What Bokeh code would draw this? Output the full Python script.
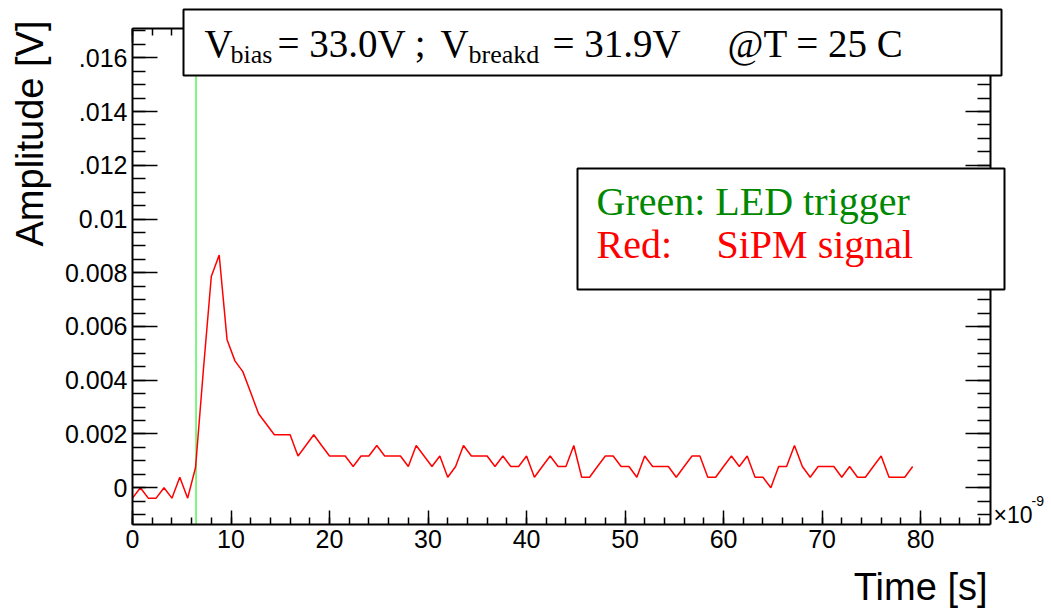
from bokeh.plotting import figure
from bokeh.models import Range1d, LinearAxis, FixedTicker, Label, BoxAnnotation
from bokeh.embed import file_html
from bokeh.resources import INLINE
import math

# ---------------- data ----------------
time_ns = [0.0, 0.8, 1.6, 2.4, 3.2, 4.0, 4.8, 5.6, 6.4, 7.2,
           8.0, 8.8, 9.6, 10.4, 11.2, 12.0, 12.8, 13.6, 14.4, 15.2,
           16.0, 16.8, 17.6, 18.4, 19.2, 20.0, 20.8, 21.6, 22.4, 23.2,
           24.0, 24.8, 25.6, 26.4, 27.2, 28.0, 28.8, 29.6, 30.4, 31.2,
           32.0, 32.8, 33.6, 34.4, 35.2, 36.0, 36.8, 37.6, 38.4, 39.2,
           40.0, 40.8, 41.6, 42.4, 43.2, 44.0, 44.8, 45.6, 46.4, 47.2,
           48.0, 48.8, 49.6, 50.4, 51.2, 52.0, 52.8, 53.6, 54.4, 55.2,
           56.0, 56.8, 57.6, 58.4, 59.2, 60.0, 60.8, 61.6, 62.4, 63.2,
           64.0, 64.8, 65.6, 66.4, 67.2, 68.0, 68.8, 69.6, 70.4, 71.2,
           72.0, 72.8, 73.6, 74.4, 75.2, 76.0, 76.8, 77.6, 78.4, 79.2]

sipm_amplitude = [-0.00039, 0.0, -0.00039, -0.00039, 0.0, -0.00039, 0.00039, -0.00039, 0.00075, 0.0044,
                  0.00786, 0.00866, 0.00551, 0.00472, 0.00432, 0.00354, 0.00275, 0.00236, 0.00197, 0.00197,
                  0.00197, 0.00118, 0.00157, 0.00197, 0.00157, 0.00118, 0.00118, 0.00118, 0.00079, 0.00118,
                  0.00118, 0.00157, 0.00118, 0.00118, 0.00118, 0.00079, 0.00157, 0.00118, 0.00079, 0.00118,
                  0.00039, 0.00079, 0.00157, 0.00118, 0.00118, 0.00118, 0.00079, 0.00118, 0.00079, 0.00079,
                  0.00118, 0.00039, 0.00079, 0.00118, 0.00079, 0.00079, 0.00157, 0.00039, 0.00039, 0.00079,
                  0.00118, 0.00118, 0.00079, 0.00079, 0.00039, 0.00118, 0.00079, 0.00079, 0.00079, 0.00039,
                  0.00079, 0.00118, 0.00118, 0.00039, 0.00039, 0.00079, 0.00118, 0.00079, 0.00118, 0.00039,
                  0.00039, 0.0, 0.00079, 0.00079, 0.00157, 0.00079, 0.00039, 0.00079, 0.00079, 0.00079,
                  0.00039, 0.00079, 0.00039, 0.00039, 0.00079, 0.00118, 0.00039, 0.00039, 0.00039, 0.00079]

led_trigger_time = 6.45

x_ticks = [0, 10, 20, 30, 40, 50, 60, 70, 80]
x_tick_labels = ["0", "10", "20", "30", "40", "50", "60", "70", "80"]
y_ticks = [0.0, 0.002, 0.004, 0.006, 0.008, 0.010, 0.012, 0.014, 0.016]
y_tick_labels = ["0", "0.002", "0.004", "0.006", "0.008", "0.01", ".012", ".014", ".016"]

# ---------------- layout ----------------
W, H = 1051, 608
FL, FR, FT, FB = 132, 990, 28, 524          # pixel edges of the axes frame
X0, X1 = 0.0, 87.1                           # axis extents (data)
Y0, Y1 = -0.00137, 0.01709


def dx(px):
    return X0 + (px - FL) / (FR - FL) * (X1 - X0)


def dy(py):
    return Y0 + (FB - py) / (FB - FT) * (Y1 - Y0)


p = figure(width=W, height=H,
           x_range=Range1d(dx(0), dx(W)), y_range=Range1d(dy(H), dy(0)),
           output_backend="svg", toolbar_location=None,
           min_border=0, min_border_left=0, min_border_right=0,
           min_border_top=0, min_border_bottom=0)
p.grid.visible = False
p.outline_line_color = None
p.background_fill_color = "white"
p.border_fill_color = "white"

x_minor = [2 * k for k in range(0, 44)]
y_minor = [-0.001 + 0.0005 * k for k in range(0, 37)]
xt = FixedTicker(ticks=x_ticks, minor_ticks=x_minor)
yt = FixedTicker(ticks=y_ticks, minor_ticks=y_minor)


def style_axis(ax, major_len, minor_len, labels=True):
    ax.axis_line_color = "black"
    ax.axis_line_width = 2
    ax.major_tick_in = major_len
    ax.major_tick_out = 0
    ax.minor_tick_in = minor_len
    ax.minor_tick_out = 0
    ax.major_tick_line_color = "black"
    ax.minor_tick_line_color = "black"
    ax.major_tick_line_width = 1.5
    ax.minor_tick_line_width = 1.5
    if labels:
        ax.major_label_text_font = "Liberation Sans"
        ax.major_label_text_font_size = "25px"
        ax.major_label_text_color = "black"
        ax.major_label_standoff = 5
    else:
        ax.major_label_text_color = None


xa = p.xaxis[0]
xa.ticker = xt
xa.fixed_location = Y0
xa.bounds = (X0, X1)
xa.major_label_overrides = dict(zip(x_ticks, x_tick_labels))
style_axis(xa, 14, 7)

ya = p.yaxis[0]
ya.ticker = yt
ya.fixed_location = X0
ya.bounds = (Y0, Y1)
ya.major_label_overrides = dict(zip(y_ticks, y_tick_labels))
style_axis(ya, 25, 13)

ra = LinearAxis(ticker=yt, fixed_location=X1, bounds=(Y0, Y1))
style_axis(ra, 25, 13, labels=False)
p.add_layout(ra, "right")
ta = LinearAxis(ticker=xt, fixed_location=Y1, bounds=(X0, X1))
style_axis(ta, 14, 7, labels=False)
p.add_layout(ta, "above")

# ---------------- glyphs ----------------
p.segment(x0=[led_trigger_time], y0=[Y0], x1=[led_trigger_time], y1=[Y1],
          line_color="#00ee00", line_width=1)
p.line(time_ns, sipm_amplitude, line_color="red", line_width=1.5)

# ---------------- boxes and texts ----------------
def pave(l, r, t, b):
    return BoxAnnotation(left=dx(l), right=dx(r), top=dy(t), bottom=dy(b),
                         fill_color="white", fill_alpha=1.0,
                         line_color="black", line_alpha=1.0, line_width=2)


p.add_layout(pave(183, 1001, 9, 75))
p.add_layout(pave(577, 1004, 168, 289))


def lab(text, px, py, size, font="Liberation Serif", color="black", align="left", angle=0.0):
    shift = 0.35 * size
    if angle:
        px = px - shift
    else:
        py = py - shift
    p.add_layout(Label(x=dx(px), y=dy(py), text=text, text_font=font,
                       text_font_size=f"{size}px", text_color=color, text_align=align,
                       text_baseline="alphabetic", angle=angle))


SER = 39
SUB = 26
lab("V", 204, 57, SER)
lab("bias", 230, 63, SUB)
lab("= 33.0V ;", 277, 57, SER)
lab("V", 440, 57, SER)
lab("breakd", 468, 63, SUB)
lab("= 31.9V", 552, 57, SER)
lab("@T = 25 C", 727, 57, SER)

lab("Green: LED trigger", 596, 215, 40, color="#008800")
lab("Red:", 596, 258, 40, color="red")
lab("SiPM signal", 716, 258, 40, color="red")

lab("Amplitude [V]", 43, 20, 38, font="Liberation Sans", align="right", angle=math.pi / 2)
lab("Time [s]", 987, 600, 38, font="Liberation Sans", align="right")
lab("\u00d710", 993, 523, 23, font="Liberation Sans")
lab("-9", 1031, 505, 14, font="Liberation Sans")

open("out.html", "w").write(file_html(p, INLINE))
